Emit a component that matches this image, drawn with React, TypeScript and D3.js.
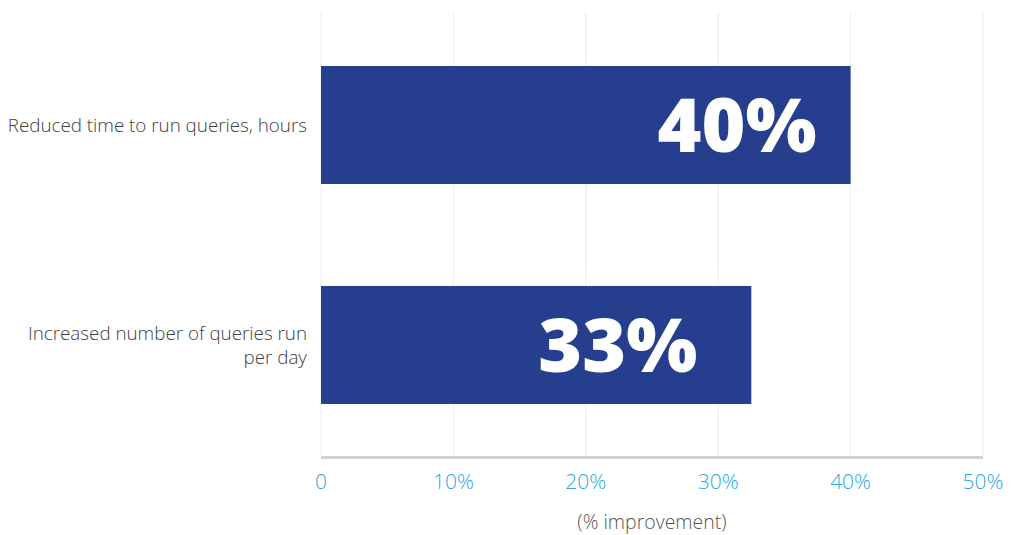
import React from "react";
import * as d3 from "d3";

const categories: string[][] = [
  ["Reduced time to run queries, hours"],
  ["Increased number of queries run", "per day"],
];
const values: number[] = [40, 32.5];
const valueLabels: string[] = ["40%", "33%"];
const ticks: number[] = [0, 10, 20, 30, 40, 50];
const tickLabels: string[] = ["0", "10%", "20%", "30%", "40%", "50%"];
const axisTitle = "(% improvement)";
const labelInsets: number[] = [34, 54];

const W = 1017;
const H = 535;
const left = 321;
const right = 983;
const top = 15;
const bottom = 455;

export default function App() {
  const x = d3.scaleLinear().domain([0, 50]).range([left, right]);
  const y = d3
    .scaleBand<number>()
    .domain(categories.map((_, i) => i))
    .range([top, bottom])
    .paddingInner(0.4636)
    .paddingOuter(0.2318);
  const font = "'Open Sans', 'Segoe UI', sans-serif";
  return (
    <svg
      width={W}
      height={H}
      style={{ position: "absolute", left: 0, top: 0, background: "#fff" }}
      fontFamily={font}
    >
      {ticks.map((t) => (
        <line
          key={"g" + t}
          x1={x(t)}
          x2={x(t)}
          y1={13}
          y2={457}
          stroke="#ececec"
          strokeWidth={1}
        />
      ))}
      {values.map((v, i) => (
        <rect
          key={"b" + i}
          x={x(0)}
          y={y(i)!}
          width={x(v) - x(0)}
          height={y.bandwidth()}
          fill="#253f8e"
        />
      ))}
      {values.map((v, i) => (
        <text
          key={"v" + i}
          x={x(v) - labelInsets[i]}
          y={y(i)! + y.bandwidth() / 2 + 27}
          textAnchor="end"
          fill="#fff"
          fontSize={75}
          fontWeight={800}
        >
          {valueLabels[i]}
        </text>
      ))}
      <line x1={x(0)} x2={x(50)} y1={457.5} y2={457.5} stroke="#d0d0d0" strokeWidth={3} />
      {ticks.map((t, i) => (
        <text
          key={"t" + t}
          x={x(t)}
          y={489}
          textAnchor="middle"
          fill="#29a8e0"
          fontSize={21}
          fontWeight={300}
        >
          {tickLabels[i]}
        </text>
      ))}
      {categories.map((lines, i) => {
        const cy = y(i)! + y.bandwidth() / 2;
        const lh = 24;
        const first = cy + 7 - ((lines.length - 1) * lh) / 2;
        return (
          <text
            key={"c" + i}
            textAnchor="end"
            fill="#404040"
            fontSize={18.8}
            fontWeight={300}
          >
            {lines.map((l, j) => (
              <tspan key={j} x={x(0) - 14} y={first + j * lh}>
                {l}
              </tspan>
            ))}
          </text>
        );
      })}
      <text
        x={(left + right) / 2}
        y={529}
        textAnchor="middle"
        fill="#555"
        fontSize={19.5}
        fontWeight={300}
      >
        {axisTitle}
      </text>
    </svg>
  );
}
